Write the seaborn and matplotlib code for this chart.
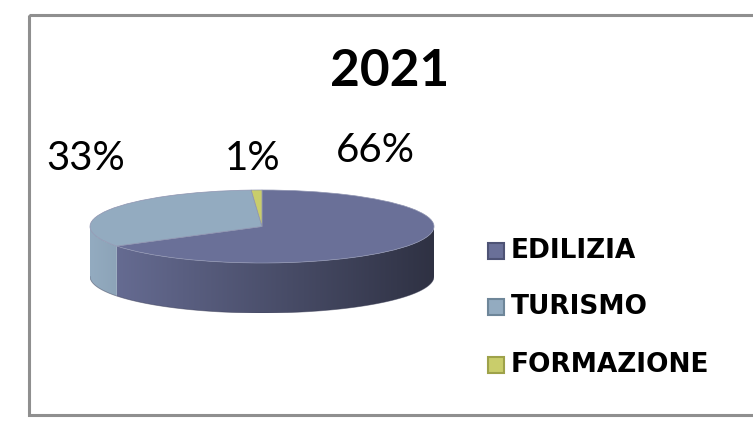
import numpy as np
import matplotlib
matplotlib.use("Agg")
import matplotlib.pyplot as plt
import seaborn as sns
from matplotlib.patches import Rectangle, Polygon
from matplotlib.colors import to_rgb

sns.set_theme(style="white")
plt.rcParams['font.family'] = ['Lato', 'DejaVu Sans']

# ---- data ----
title = "2021"
categories = ["EDILIZIA", "TURISMO", "FORMAZIONE"]
values = [66, 33, 1]
pct_labels = ["66%", "33%", "1%"]
colors = ["#6A7098", "#93ABC0", "#C9CD6B"]
edge_colors = ["#4E5375", "#6E8699", "#9EA24A"]

W, H = 753, 421
fig = plt.figure(figsize=(W / 100, H / 100), dpi=100)
fig.patch.set_facecolor("white")

# frame
bg = fig.add_axes([0, 0, 1, 1])
bg.set_xlim(0, W); bg.set_ylim(H, 0); bg.axis("off")
bg.add_patch(Rectangle((29, 15), W + 10, 400, fill=False,
                       edgecolor="#8f8f8f", linewidth=2.2))

# pie axes: x -1..1 -> 90..434 px, y 1 -> 190 px, -1-depth -> 313 px
depth = 1.37
left, right, top, bottom = 90, 434, 190, 313
ax = fig.add_axes([left / W, 1 - bottom / H, (right - left) / W, (bottom - top) / H])

# slice angles (startangle 90, clockwise)
fracs = np.array(values, dtype=float) / np.sum(values)
ends = 90 - 360 * np.cumsum(fracs)
starts = np.concatenate([[90], ends[:-1]])

# side wall (front half: angles 180..360) with horizontal gradient
xs = np.linspace(-1, 1, 400)
fade = 1.0 - 0.56 * (xs + 1) / 2
for i in range(len(values)):
    a0, a1 = ends[i], starts[i]
    for off in (0, 360, -360):
        lo = max(a0 + off, 180)
        hi = min(a1 + off, 360)
        if hi > lo:
            ts = np.linspace(np.radians(lo), np.radians(hi), 200)
            top_pts = np.column_stack([np.cos(ts), np.sin(ts)])
            bot_pts = np.column_stack([np.cos(ts[::-1]), np.sin(ts[::-1]) - depth])
            poly = Polygon(np.vstack([top_pts, bot_pts]), closed=True,
                           facecolor="none", edgecolor="none")
            ax.add_patch(poly)
            base = np.array(to_rgb(colors[i]))
            img = (fade[None, :, None] * base[None, None, :])
            im = ax.imshow(img, extent=[-1, 1, -1 - depth, 0], aspect="auto",
                           interpolation="bilinear", zorder=1)
            im.set_clip_path(poly)

# outline of bottom edge
tb = np.linspace(np.pi, 2 * np.pi, 300)
ax.plot(np.cos(tb), np.sin(tb) - depth, color="#3a3d55", lw=0.6, alpha=0.5, zorder=2)

# top face
wedges, _ = ax.pie(values, colors=colors, startangle=90, counterclock=False,
                   radius=1, wedgeprops=dict(edgecolor="#8e93b0", linewidth=0.5, zorder=3),
                   frame=True)
ax.set_xlim(-1, 1)
ax.set_ylim(-1 - depth, 1)
ax.set_aspect("auto")
ax.axis("off")

# title and labels (pixel coordinates)
bg.text(390, 72, title, ha="center", va="center", fontsize=37,
        fontweight="bold", color="black")
label_pos = {"66%": (375, 150), "33%": (86, 158), "1%": (253, 158)}
for lab in pct_labels:
    x, y = label_pos[lab]
    bg.text(x, y, lab, ha="center", va="center", fontsize=29, color="black")

# legend
leg_y = [251, 307, 365]
for cat, col, ec, y in zip(categories, colors, edge_colors, leg_y):
    bg.add_patch(Rectangle((488, y - 8), 16, 16, facecolor=col,
                           edgecolor=ec, linewidth=1.5))
    bg.text(511, y, cat, ha="left", va="center", fontsize=19,
            fontweight="bold", color="black", family=["DejaVu Sans"])

fig.savefig("out.png", dpi=100, facecolor="white")
